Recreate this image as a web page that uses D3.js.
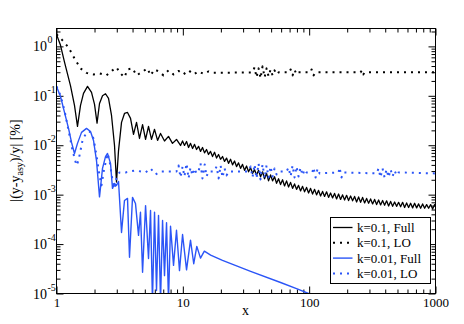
<!DOCTYPE html>
<html>
<head>
<meta charset="utf-8">
<script src="https://cdn.jsdelivr.net/npm/d3@7"></script>
<style>
    body { margin: 0; background: #fff; }
    text { font-family: "Liberation Serif", "Times New Roman", serif; fill: #000; }
</style>
</head>
<body>
<div id="chart"></div>
<script>
// values, [x, |(y-y_asy)/y| in %]
const k01Full = [
    [1, 1.75], [1.076, 1.05], [1.157, 0.48], [1.29, 0.16], [1.388, 0.064], [1.466, 0.024],
    [1.549, 0.064], [1.636, 0.112], [1.76, 0.155], [1.893, 0.117], [2.0, 0.067], [2.094, 0.028],
    [2.19, 0.07], [2.313, 0.1], [2.443, 0.11], [2.581, 0.089], [2.726, 0.04], [2.878, 0.01],
    [2.985, 0.0018], [3.097, 0.0078], [3.271, 0.029], [3.452, 0.044], [3.648, 0.046], [3.855, 0.035],
    [4.07, 0.0166], [4.3, 0.029], [4.54, 0.0137], [4.8, 0.026], [5.07, 0.0131], [5.35, 0.024],
    [5.65, 0.0131], [5.97, 0.021], [6.31, 0.0125], [6.66, 0.0173], [7.16, 0.0122], [7.7, 0.0151],
    [8.28, 0.0109], [8.91, 0.0131], [9.59, 0.0099],
    [9.946, 0.0122], [10.31, 0.0099], [10.7, 0.0119], [11.1, 0.009], [11.51, 0.0109], [11.94, 0.0086],
    [12.38, 0.0104], [12.84, 0.0082], [13.32, 0.0095], [13.81, 0.0075], [14.32, 0.009], [14.85, 0.007],
    [15.4, 0.0082], [15.97, 0.0065], [16.57, 0.0075], [17.18, 0.0059], [17.82, 0.0072], [18.49, 0.0055],
    [19.17, 0.0065], [19.88, 0.0052], [20.62, 0.0059], [21.39, 0.0047], [22.18, 0.0055], [23.0, 0.0043],
    [23.86, 0.0052], [24.74, 0.004], [25.66, 0.0048], [26.61, 0.0037], [27.61, 0.0044], [28.63, 0.0034],
    [29.69, 0.0041], [30.8, 0.0031], [31.94, 0.0038], [33.13, 0.0029], [34.36, 0.0035], [35.63, 0.0027],
    [36.96, 0.0032], [38.33, 0.0025], [39.75, 0.0031], [41.23, 0.0023], [42.76, 0.0029], [44.35, 0.0021],
    [45.99, 0.0027], [47.7, 0.0019], [49.47, 0.0025], [51.31, 0.0019], [53.21, 0.0023], [55.19, 0.0017],
    [57.24, 0.0021], [59.36, 0.0016], [61.57, 0.002], [63.85, 0.0015], [66.22, 0.0019], [68.68, 0.00143],
    [71.23, 0.00177], [73.88, 0.00134], [76.62, 0.00165], [79.47, 0.00128], [82.42, 0.00154], [85.48, 0.00119],
    [88.66, 0.00147], [91.95, 0.00114], [95.37, 0.0014], [98.91, 0.00108], [102.6, 0.00134], [106.4, 0.00103],
    [110.4, 0.00128], [114.4, 0.00099], [118.7, 0.00122], [123.1, 0.00094], [127.7, 0.00116], [132.4, 0.00092],
    [137.3, 0.00114], [142.4, 0.00088], [147.7, 0.00108], [153.2, 0.00086], [158.9, 0.00106], [164.8, 0.00082],
    [170.9, 0.00103], [177.3, 0.0008], [183.9, 0.00099], [190.7, 0.00078], [197.8, 0.00097], [205.1, 0.00076],
    [212.8, 0.00094], [220.7, 0.00075], [228.9, 0.00092], [237.4, 0.00071], [246.2, 0.0009], [255.4, 0.0007],
    [264.8, 0.00088], [274.7, 0.00068], [284.9, 0.00084], [295.5, 0.00067], [306.4, 0.00082], [317.8, 0.00065],
    [329.6, 0.0008], [341.9, 0.00063], [354.6, 0.00078], [367.7, 0.00062], [381.4, 0.00076], [395.5, 0.00061],
    [410.2, 0.00075], [425.5, 0.00059], [441.3, 0.00073], [457.7, 0.00058], [474.7, 0.00071], [492.0, 0.00058],
    [510.5, 0.0007], [529.5, 0.00057], [549.1, 0.0007], [569.5, 0.00055], [590.7, 0.00068], [612.6, 0.00055],
    [635.4, 0.00067], [659.0, 0.00054], [683.4, 0.00067], [708.9, 0.00054], [735.2, 0.00065], [762.5, 0.00053],
    [790.8, 0.00065], [820.2, 0.00053], [850.7, 0.00063], [882.3, 0.00053], [915.1, 0.00063], [949.1, 0.00051],
    [984.4, 0.00063], [1000, 0.00058]
];

const k01LO = [
    [1, 1.75], [1.116, 1.32], [1.245, 0.954], [1.388, 0.572], [1.549, 0.359], [1.728, 0.291],
    [1.963, 0.271], [2.19, 0.284], [2.488, 0.259], [2.775, 0.327], [2.985, 0.376], [3.21, 0.284],
    [3.45, 0.236], [3.65, 0.342], [4.0, 0.359], [4.3, 0.259], [4.71, 0.298], [5.25, 0.359],
    [5.55, 0.259], [5.97, 0.342], [6.42, 0.312], [7.03, 0.259], [7.7, 0.327], [8.44, 0.271],
    [9.25, 0.319], [10.1, 0.271], [11.1, 0.327], [12.2, 0.271], [13.3, 0.312], [14.6, 0.278],
    [16.0, 0.312], [17.5, 0.291], [35.6, 0.298],
    [36.96, 0.376], [38.3, 0.236], [39.77, 0.359], [41.2, 0.225], [42.76, 0.394], [44.4, 0.236],
    [46.0, 0.359], [47.7, 0.247], [49.5, 0.342], [51.3, 0.259], [53.2, 0.327], [55.2, 0.271],
    [57.3, 0.298], [69.9, 0.298], [71.3, 0.342], [73.9, 0.259], [76.6, 0.335], [79.4, 0.271],
    [82.4, 0.298], [102.6, 0.298], [104.5, 0.342], [108.3, 0.259], [112.4, 0.298],
    [255, 0.298], [262, 0.33], [268, 0.27], [275, 0.298], [1000, 0.298]
];

const k001Full = [
    [1, 0.155], [1.076, 0.097], [1.157, 0.0461], [1.245, 0.0219], [1.315, 0.0114], [1.388, 0.0068],
    [1.466, 0.0109], [1.578, 0.0182], [1.728, 0.0219], [1.859, 0.019], [1.963, 0.0125], [2.073, 0.0049],
    [2.19, 0.0009], [2.313, 0.0034], [2.443, 0.0059], [2.534, 0.0068], [2.676, 0.0043], [2.775, 0.00134],
    [2.878, 0.00169], [2.985, 0.00154], [3.097, 0.00185], [3.271, 0.000172], [3.452, 0.00076],
    [3.648, 0.00084], [3.784, 5.4e-5], [3.997, 0.00088], [4.22, 0.00066], [4.46, 0.00015],
    [4.62, 0.00044], [4.8, 2.7e-5], [5.07, 0.0006], [5.35, 5.1e-5], [5.55, 0.00048], [5.75, 7e-6],
    [5.97, 0.00044], [6.19, 1.15e-5], [6.42, 0.00038], [6.66, 7e-6], [6.91, 0.0003], [7.16, 2.3e-5],
    [7.43, 0.00027], [7.7, 7e-6], [7.99, 0.00023], [8.44, 3.7e-5], [8.91, 0.00019], [9.41, 2.9e-5],
    [9.95, 0.000156], [10.7, 3.0e-5], [11.5, 0.00012], [12.2, 4.0e-5], [12.9, 9.0e-5], [13.8, 5.2e-5],
    [14.8, 7.2e-5], [16.6, 6.0e-5], [20.6, 4.7e-5], [34.4, 2.8e-5], [59.4, 1.67e-5], [79.4, 1.26e-5],
    [98.9, 1.0e-5], [106, 9.1e-6]
];

const k001LO = [
    [1, 0.155], [1.076, 0.102], [1.157, 0.0506], [1.245, 0.02], [1.339, 0.00785], [1.44, 0.0039],
    [1.493, 0.0049], [1.607, 0.0125], [1.728, 0.0182], [1.825, 0.019], [1.963, 0.0137], [2.073, 0.0062],
    [2.19, 0.00245], [2.27, 0.00154], [2.356, 0.00282], [2.534, 0.0068], [2.628, 0.0049], [2.775, 0.00194],
    [2.878, 0.00134], [2.985, 0.00213], [3.154, 0.00282], [3.52, 0.00282], [4.22, 0.00309],
    [5.07, 0.00282], [5.55, 0.00339], [6.08, 0.00256], [6.66, 0.00295], [7.99, 0.00295], [8.91, 0.00295],
    [9.25, 0.0039], [9.59, 0.00223], [9.95, 0.00372], [10.3, 0.00233], [10.7, 0.00428], [11.1, 0.00213],
    [11.5, 0.00355], [11.9, 0.00245], [12.4, 0.00339], [12.8, 0.00269], [13.3, 0.00295], [13.8, 0.00428],
    [14.3, 0.00213], [14.9, 0.00409], [15.4, 0.00233], [16.0, 0.00295], [17.8, 0.00295],
    [18.5, 0.00372], [19.2, 0.00213], [19.9, 0.0039], [20.6, 0.00223], [21.4, 0.00339], [22.2, 0.00245],
    [23.0, 0.00295], [33.1, 0.00295],
    [34.4, 0.00372], [35.6, 0.00223], [36.96, 0.00409], [38.3, 0.00213], [39.77, 0.00428], [41.2, 0.00203],
    [42.76, 0.00409], [44.4, 0.00213], [46.0, 0.0039], [47.7, 0.00223], [49.5, 0.00372], [51.3, 0.00233],
    [53.2, 0.00339], [55.2, 0.00256], [57.3, 0.00295], [66.2, 0.00295],
    [68.7, 0.00355], [71.3, 0.00233], [73.9, 0.0039], [76.6, 0.00223], [79.4, 0.00372], [82.4, 0.00233],
    [85.5, 0.00355], [88.7, 0.00245], [91.9, 0.00324], [95.3, 0.00282], [106, 0.00282],
    [108.3, 0.00355], [112.4, 0.00223], [116.6, 0.00339], [120.9, 0.00269], [171, 0.00282],
    [174, 0.00355], [180.5, 0.00223], [187, 0.00282], [342, 0.00269],
    [354, 0.00339], [367, 0.00223], [381, 0.00339], [395, 0.00223], [410, 0.00324], [425, 0.00223],
    [441, 0.00324], [457, 0.00233], [474, 0.00309], [492, 0.00245], [510, 0.00282], [1000, 0.00269]
];

const xMajorTicks = [1, 10, 100, 1000];
const yMajorTicks = [1e-5, 1e-4, 1e-3, 1e-2, 1e-1, 1];
const yExponents = ['-5', '-4', '-3', '-2', '-1', '0'];
const legendLabels = ['k=0.1, Full', 'k=0.1, LO', 'k=0.01, Full', 'k=0.01, LO'];

const width = 464;
const height = 324;
const margin = {top: 28, right: 29, bottom: 31, left: 56};
const chartWidth = width - margin.left - margin.right;
const chartHeight = height - margin.top - margin.bottom;
const blue = '#2b55f7';

const series = [
    {data: k01Full, color: '#000', dash: null, stroke: 1.3},
    {data: k01LO, color: '#000', dash: '2,5', stroke: 2},
    {data: k001Full, color: blue, dash: null, stroke: 1.4},
    {data: k001LO, color: blue, dash: '2,5', stroke: 2}
];

const minorOf = (decades) => decades.flatMap(d => d3.range(2, 10).map(m => m * d));

const xScale = d3.scaleLog().domain([1, 1000]).range([0, chartWidth]);
const yScale = d3.scaleLog().domain([1e-5, 2.3]).range([chartHeight, 0]);

const svg = d3.select('#chart')
  .append('svg')
    .attr('width', width)
    .attr('height', height);

const container = svg.append('g')
    .attr('transform', `translate(${margin.left + 0.5},${margin.top + 0.5})`);

function styleAxis(g) {
    g.select('.domain').remove();
    g.attr('font-family', null).attr('font-size', null);
}

// ticks point inwards on all four sides
const xMinor = minorOf([1, 10, 100]);
const yMinor = minorOf([1e-5, 1e-4, 1e-3, 1e-2, 1e-1, 1]).filter(v => v <= 2.3);

container.append('g')
    .attr('transform', `translate(0,${chartHeight})`)
    .call(d3.axisBottom(xScale).tickValues(xMajorTicks).tickSize(-7).tickPadding(4)
        .tickFormat(d3.format('d')))
    .call(styleAxis)
    .call(g => g.selectAll('text').attr('font-size', 13));
container.append('g')
    .attr('transform', `translate(0,${chartHeight})`)
    .call(d3.axisBottom(xScale).tickValues(xMinor).tickSize(-4).tickFormat(''))
    .call(styleAxis);
container.append('g')
    .call(d3.axisTop(xScale).tickValues(xMajorTicks).tickSize(-7).tickFormat(''))
    .call(styleAxis);
container.append('g')
    .call(d3.axisTop(xScale).tickValues(xMinor).tickSize(-4).tickFormat(''))
    .call(styleAxis);

const yLeft = container.append('g')
    .call(d3.axisLeft(yScale).tickValues(yMajorTicks).tickSize(-7).tickFormat(''))
    .call(styleAxis);
container.append('g')
    .call(d3.axisLeft(yScale).tickValues(yMinor).tickSize(-4).tickFormat(''))
    .call(styleAxis);
container.append('g')
    .attr('transform', `translate(${chartWidth},0)`)
    .call(d3.axisRight(yScale).tickValues(yMajorTicks).tickSize(-7).tickFormat(''))
    .call(styleAxis);
container.append('g')
    .attr('transform', `translate(${chartWidth},0)`)
    .call(d3.axisRight(yScale).tickValues(yMinor).tickSize(-4).tickFormat(''))
    .call(styleAxis);

// 10^n labels
yLeft.selectAll('.tick').each(function(d, i) {
    const tick = d3.select(this);
    tick.append('text')
        .attr('x', -9.5)
        .attr('y', 4.5)
        .attr('text-anchor', 'end')
        .attr('font-size', 14)
        .text('10');
    tick.append('text')
        .attr('x', -9)
        .attr('y', -3.5)
        .attr('text-anchor', 'start')
        .attr('font-size', 10)
        .text(yExponents[i]);
});

// curves
container.append('clipPath')
    .attr('id', 'plot-clip')
  .append('rect')
    .attr('width', chartWidth)
    .attr('height', chartHeight);

const line = d3.line()
    .x(d => xScale(d[0]))
    .y(d => yScale(d[1]));

container.append('g')
    .attr('clip-path', 'url(#plot-clip)')
  .selectAll('path')
    .data(series)
  .join('path')
    .attr('d', d => line(d.data))
    .attr('fill', 'none')
    .attr('stroke', d => d.color)
    .attr('stroke-width', d => d.stroke)
    .attr('stroke-dasharray', d => d.dash)
    .attr('stroke-linejoin', 'round');

// frame
container.append('rect')
    .attr('width', chartWidth)
    .attr('height', chartHeight)
    .attr('fill', 'none')
    .attr('stroke', '#000')
    .attr('stroke-width', 1);

// axis titles
svg.append('text')
    .attr('x', margin.left + chartWidth / 2)
    .attr('y', 315)
    .attr('text-anchor', 'middle')
    .attr('font-size', 14)
    .text('x');

const yTitle = svg.append('text')
    .attr('transform', `translate(20,${margin.top + chartHeight / 2}) rotate(-90)`)
    .attr('text-anchor', 'middle')
    .attr('font-size', 14);
yTitle.append('tspan').text('|(y-y');
yTitle.append('tspan').attr('font-size', 10).attr('dy', 3).text('asy');
yTitle.append('tspan').attr('dy', -3).text(')/y| [%]');

// legend
const legend = svg.append('g')
    .attr('transform', 'translate(330.5,217.5)');
legend.append('rect')
    .attr('width', 100)
    .attr('height', 66)
    .attr('fill', '#fff')
    .attr('stroke', '#000');

const rows = legend.selectAll('.legend-row')
    .data(series)
  .join('g')
    .attr('class', 'legend-row')
    .attr('transform', (d, i) => `translate(0,${10 + i * 15.3})`);
rows.append('line')
    .attr('x1', 2.5)
    .attr('x2', 22)
    .attr('stroke', d => d.color)
    .attr('stroke-width', d => d.stroke)
    .attr('stroke-dasharray', d => d.dash);
rows.append('text')
    .attr('x', 26.5)
    .attr('y', 4.5)
    .attr('font-size', 13)
    .text((d, i) => legendLabels[i]);
</script>
</body>
</html>
